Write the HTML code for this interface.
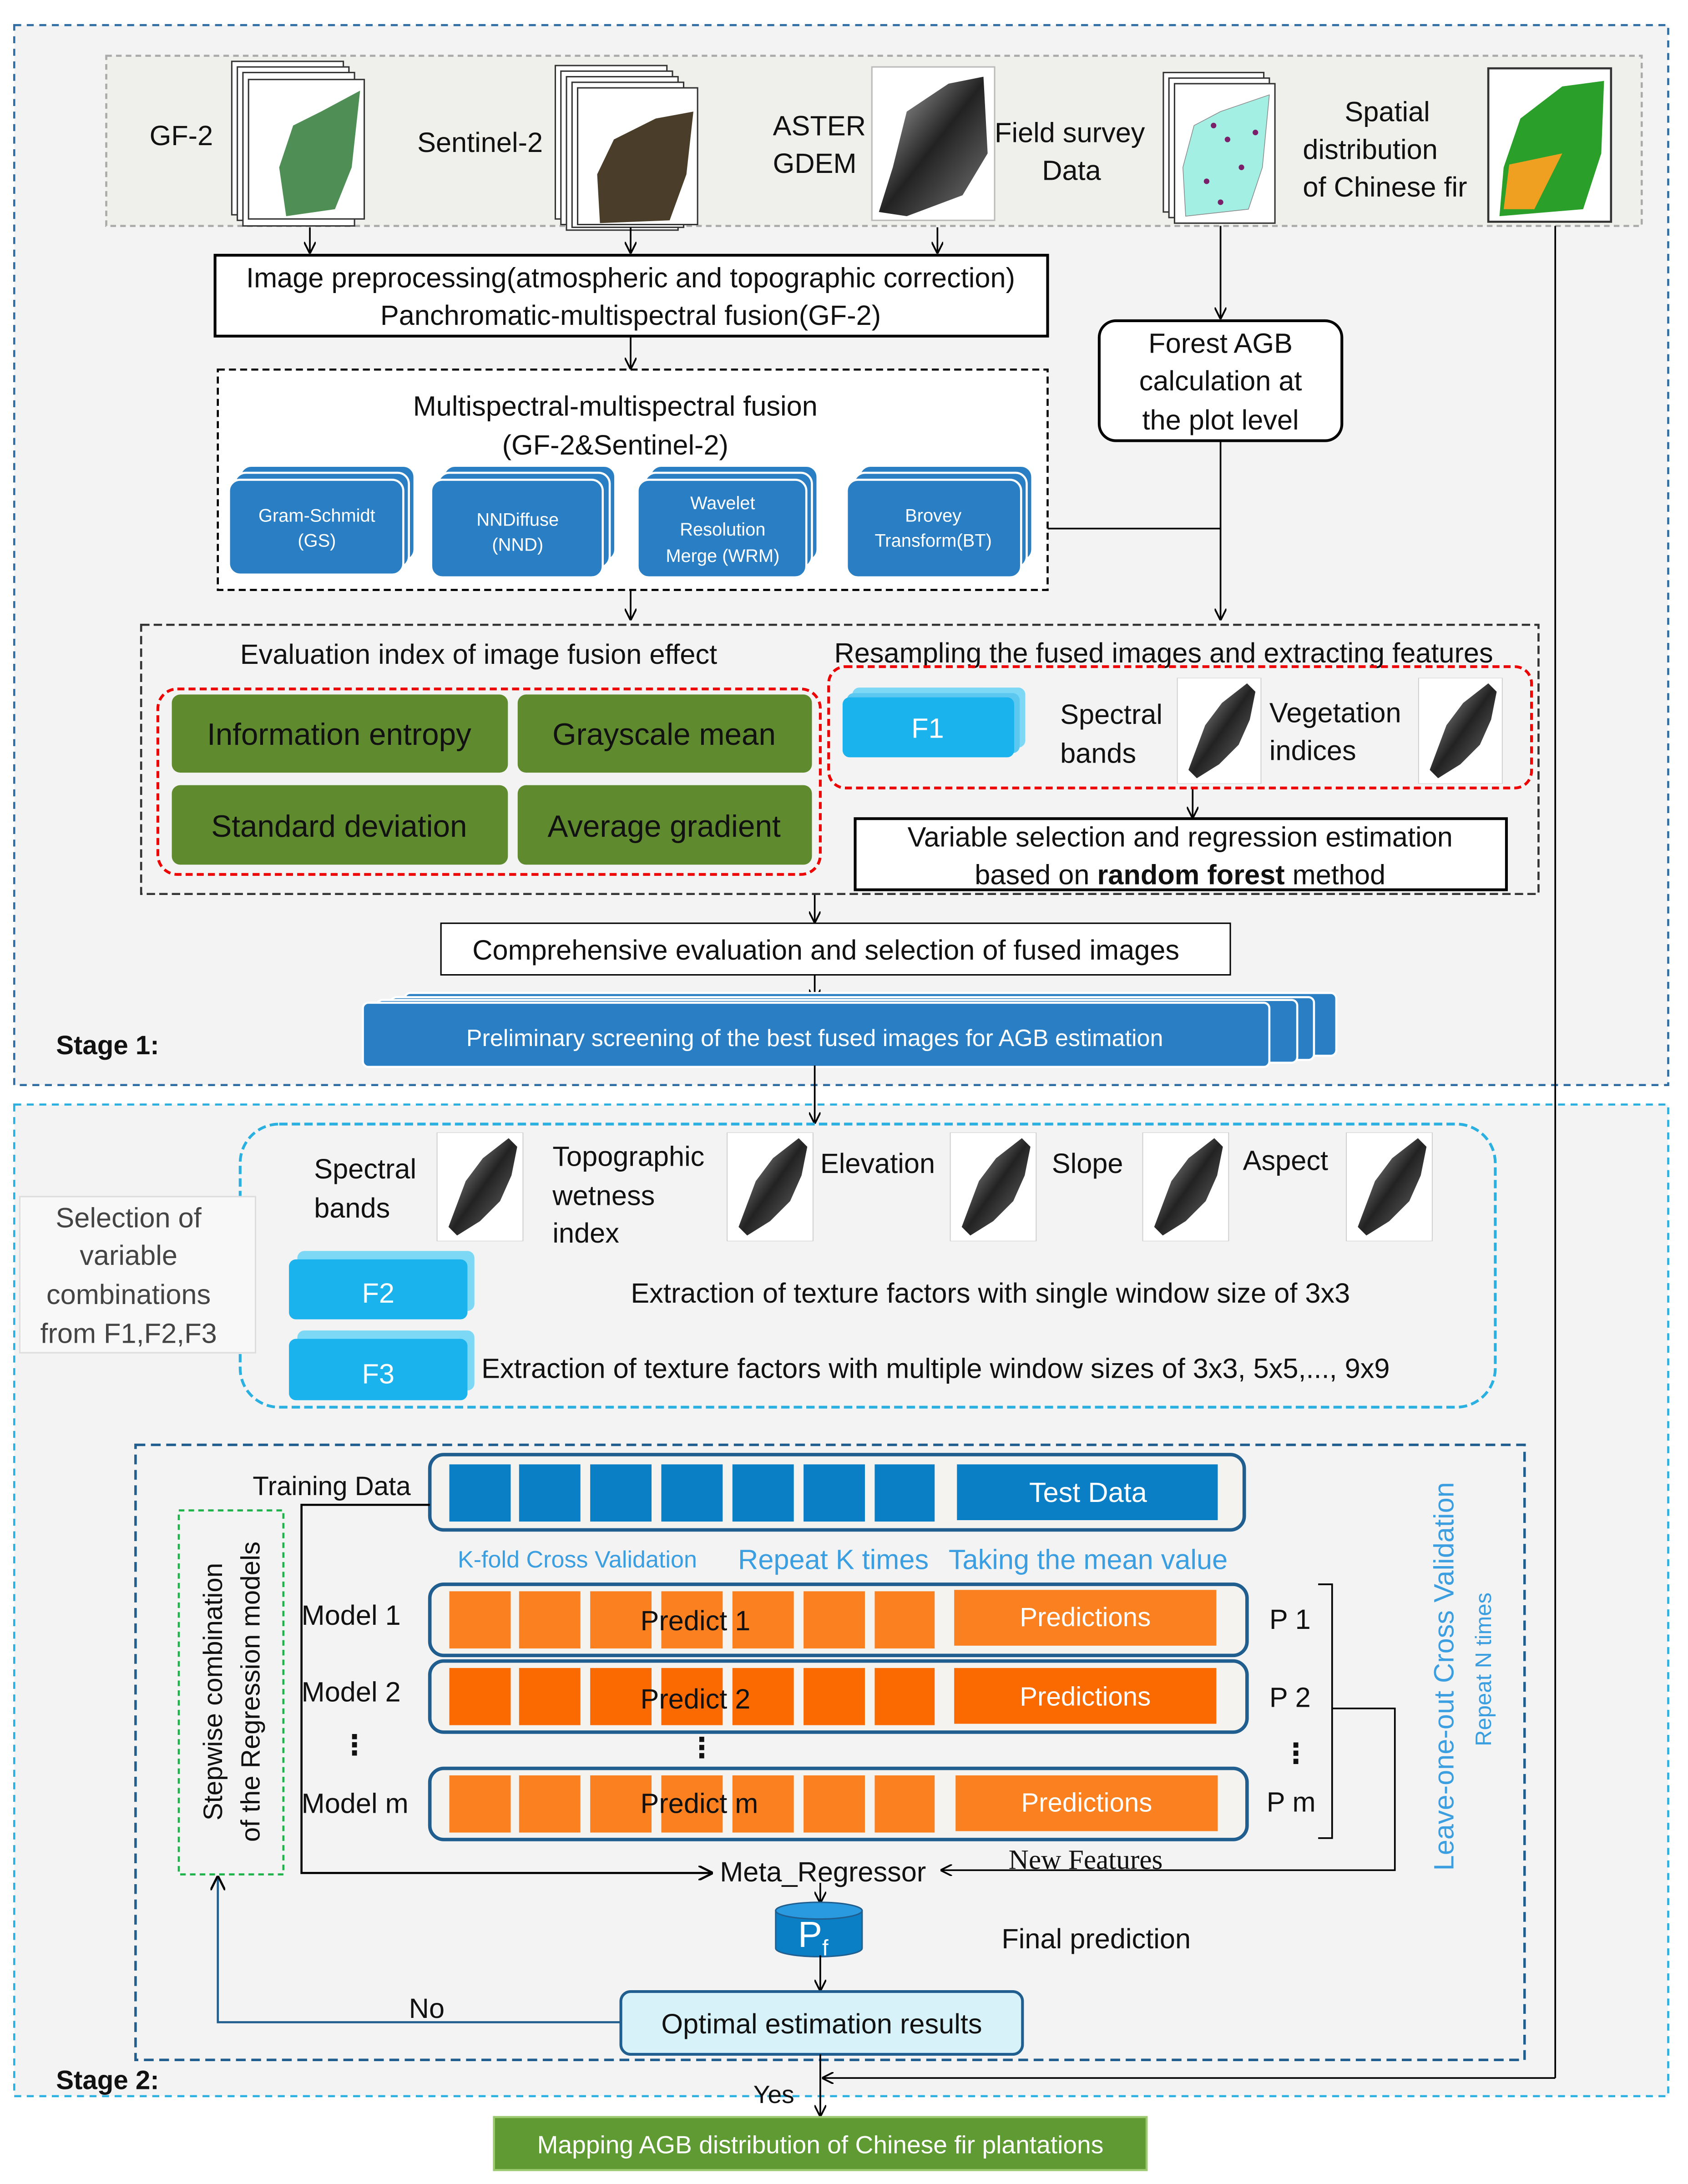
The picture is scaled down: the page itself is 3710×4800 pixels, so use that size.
<!DOCTYPE html>
<html><head><meta charset="utf-8"><style>
html,body{margin:0;padding:0;background:#fff}
svg{display:block}
text{font-family:"Liberation Sans","DejaVu Sans",sans-serif;fill:#111}
</style></head><body>
<svg width="3710" height="4800" viewBox="0 0 1210 1566" xmlns="http://www.w3.org/2000/svg">
<defs>
<marker id="ar" viewBox="0 0 10 10" refX="9" refY="5" markerWidth="7" markerHeight="7" orient="auto"><path d="M0,0 L10,5 L0,10" fill="none" stroke="#000" stroke-width="1.5"/></marker>
<linearGradient id="gr" x1="0" y1="0" x2="1" y2="1"><stop offset="0" stop-color="#bbb"/><stop offset="0.5" stop-color="#222"/><stop offset="1" stop-color="#777"/></linearGradient>
<symbol id="gmap" viewBox="0 0 60 76"><rect x="0" y="0" width="60" height="76" fill="#fff" stroke="#ccc" stroke-width="0.6"/><path d="M50,4 L56,10 L52,30 L44,48 L30,62 L14,72 L8,66 L14,50 L20,34 L32,18 Z" fill="url(#gr)"/></symbol>
</defs>
<rect width="1210" height="1566" fill="#fff"/>
<rect x="10" y="18" width="1186" height="760" fill="#f3f3f3" stroke="#2e6da4" stroke-width="1.5" stroke-dasharray="5,4"/>
<rect x="76" y="40" width="1101" height="122" fill="#eff0ec" stroke="#aaa" stroke-width="1.5" stroke-dasharray="4,3"/>
<g stroke="#333" stroke-width="1" fill="#fff">
<rect x="166" y="44" width="80" height="110"/><rect x="170" y="48" width="80" height="110"/><rect x="174" y="52" width="80" height="110"/><rect x="178" y="57" width="83" height="100"/>
<rect x="398" y="47" width="80" height="110"/><rect x="402" y="51" width="80" height="110"/><rect x="406" y="55" width="80" height="110"/><rect x="410" y="59" width="80" height="104"/><rect x="414" y="63" width="86" height="98"/>
<rect x="834" y="52" width="72" height="100"/><rect x="838" y="56" width="72" height="100"/><rect x="842" y="60" width="72" height="100"/>
<rect x="1067" y="49" width="88" height="110" stroke-width="1.5"/>
</g>
<path d="M258,65 L252,120 L240,150 L205,155 L200,120 L210,90 L230,80 Z" fill="#4f8f55"/>
<path d="M497,80 L492,125 L480,158 L430,160 L428,125 L440,100 L470,85 Z" fill="#4a3d2a"/>
<rect x="625" y="48" width="88" height="110" fill="#fff" stroke="#bbb"/>
<path d="M705,55 L708,110 L690,140 L650,155 L630,152 L640,120 L650,80 L680,60 Z" fill="url(#gr)"/>
<path d="M910,68 L905,120 L895,150 L850,155 L848,120 L856,90 L875,80 Z" fill="#a3efe3" stroke="#888" stroke-width="0.5"/>
<g fill="#7a1f6a"><circle cx="870" cy="90" r="2"/><circle cx="880" cy="100" r="2"/><circle cx="865" cy="130" r="2"/><circle cx="890" cy="120" r="2"/><circle cx="875" cy="145" r="2"/><circle cx="900" cy="95" r="2"/></g>
<path d="M1150,58 L1148,110 L1135,150 L1075,155 L1078,120 L1090,85 L1120,62 Z" fill="#2aa02a"/>
<path d="M1120,110 L1100,150 L1078,150 L1082,118 Z" fill="#f0a020"/>
<g font-size="20">
<text x="107" y="104">GF-2</text><text x="299" y="109">Sentinel-2</text>
<text x="554" y="97">ASTER</text><text x="554" y="124">GDEM</text>
<text x="713" y="102">Field survey</text><text x="747" y="129">Data</text>
<text x="964" y="87">Spatial</text><text x="934" y="114">distribution</text><text x="934" y="141">of Chinese fir</text>
</g>
<g stroke="#000" stroke-width="1.2" fill="none" marker-end="url(#ar)">
<line x1="222" y1="163" x2="222" y2="181"/><line x1="452" y1="163" x2="452" y2="181"/><line x1="672" y1="163" x2="672" y2="181"/>
<line x1="875" y1="162" x2="875" y2="228"/>
<line x1="452" y1="241" x2="452" y2="264"/><line x1="452" y1="423" x2="452" y2="444"/>
<line x1="875" y1="316" x2="875" y2="444"/>
<line x1="855" y1="565" x2="855" y2="586"/><line x1="584" y1="641" x2="584" y2="661"/>
<line x1="584" y1="699" x2="584" y2="717"/>
<line x1="584" y1="1009" x2="584" y2="1034"/>
</g>
<line x1="751" y1="379" x2="875" y2="379" stroke="#000" stroke-width="1.2"/>
<line x1="1115" y1="162" x2="1115" y2="778" stroke="#000" stroke-width="1.2"/>
<rect x="154" y="183" width="597" height="58" fill="#fff" stroke="#000" stroke-width="2"/>
<text x="452" y="206" font-size="20" text-anchor="middle">Image preprocessing(atmospheric and topographic correction)</text>
<text x="452" y="233" font-size="20" text-anchor="middle">Panchromatic-multispectral fusion(GF-2)</text>
<rect x="788" y="230" width="174" height="86" rx="12" fill="#fff" stroke="#000" stroke-width="2"/>
<g font-size="20" text-anchor="middle"><text x="875" y="253">Forest AGB</text><text x="875" y="280">calculation at</text><text x="875" y="308">the plot level</text></g>
<rect x="156" y="265" width="595" height="158" fill="#fff" stroke="#000" stroke-width="1.5" stroke-dasharray="5,3"/>
<text x="441" y="298" font-size="20" text-anchor="middle">Multispectral-multispectral fusion</text>
<text x="441" y="326" font-size="20" text-anchor="middle">(GF-2&amp;Sentinel-2)</text>
<g stroke="#fff" stroke-width="1.5">
<g fill="#2a7fc4">
<rect x="172" y="334" width="125" height="68" rx="8"/><rect x="168" y="339" width="125" height="68" rx="8"/><rect x="164" y="344" width="125" height="68" rx="8"/>
<rect x="318" y="334" width="123" height="68" rx="8"/><rect x="314" y="339" width="123" height="68" rx="8"/><rect x="309" y="344" width="123" height="70" rx="8"/>
<rect x="466" y="334" width="120" height="68" rx="8"/><rect x="462" y="339" width="120" height="68" rx="8"/><rect x="457" y="344" width="121" height="70" rx="8"/>
<rect x="616" y="334" width="124" height="68" rx="8"/><rect x="612" y="339" width="124" height="68" rx="8"/><rect x="607" y="344" width="125" height="70" rx="8"/>
</g></g>
<g font-size="13" text-anchor="middle">
<text x="227" y="374" style="fill:#fff">Gram-Schmidt</text><text x="227" y="392" style="fill:#fff">(GS)</text>
<text x="371" y="377" style="fill:#fff">NNDiffuse</text><text x="371" y="395" style="fill:#fff">(NND)</text>
<text x="518" y="365" style="fill:#fff">Wavelet</text><text x="518" y="384" style="fill:#fff">Resolution</text><text x="518" y="403" style="fill:#fff">Merge (WRM)</text>
<text x="669" y="374" style="fill:#fff">Brovey</text><text x="669" y="392" style="fill:#fff">Transform(BT)</text>
</g>
<rect x="101" y="448" width="1002" height="193" fill="none" stroke="#333" stroke-width="1.5" stroke-dasharray="6,3"/>
<text x="172" y="476" font-size="20">Evaluation index of image fusion effect</text>
<text x="598" y="475" font-size="20">Resampling the fused images and extracting features</text>
<rect x="113" y="494" width="475" height="133" rx="14" fill="none" stroke="#e00" stroke-width="2" stroke-dasharray="5,3"/>
<g fill="#5f8a2e"><rect x="123" y="498" width="241" height="56" rx="6"/><rect x="371" y="498" width="211" height="56" rx="6"/><rect x="123" y="563" width="241" height="57" rx="6"/><rect x="371" y="563" width="211" height="57" rx="6"/></g>
<g font-size="22" text-anchor="middle"><text x="243" y="534">Information entropy</text><text x="476" y="534">Grayscale mean</text><text x="243" y="600">Standard deviation</text><text x="476" y="600">Average gradient</text></g>
<rect x="594" y="478" width="504" height="87" rx="12" fill="none" stroke="#e00" stroke-width="2" stroke-dasharray="5,3"/>
<rect x="611" y="493" width="124" height="43" rx="5" fill="#7dd8f5"/><rect x="607" y="497" width="124" height="43" rx="5" fill="#5cc8f0"/>
<rect x="604" y="500" width="123" height="43" rx="5" fill="#1ab3ee"/>
<text x="665" y="529" font-size="20" text-anchor="middle" style="fill:#fff">F1</text>
<text x="760" y="519" font-size="20">Spectral</text><text x="760" y="547" font-size="20">bands</text>
<use href="#gmap" x="843" y="486" width="62" height="76"/>
<text x="910" y="518" font-size="20">Vegetation</text><text x="910" y="545" font-size="20">indices</text>
<use href="#gmap" x="1016" y="486" width="62" height="76"/>
<rect x="613" y="587" width="467" height="51" fill="#fff" stroke="#000" stroke-width="2"/>
<text x="846" y="607" font-size="20" text-anchor="middle">Variable selection and regression estimation</text>
<text x="846" y="634" font-size="20" text-anchor="middle">based on <tspan font-weight="bold">random forest</tspan> method</text>
<rect x="316" y="662" width="566" height="37" fill="#fff" stroke="#000" stroke-width="1"/>
<text x="592" y="688" font-size="20" text-anchor="middle">Comprehensive evaluation and selection of fused images</text>
<g fill="#2a7fc4" stroke="#fff" stroke-width="1.5">
<rect x="290" y="712" width="668" height="45" rx="4"/><rect x="280" y="715" width="662" height="45" rx="4"/><rect x="270" y="717" width="660" height="45" rx="4"/><rect x="260" y="719" width="650" height="46" rx="4"/>
</g>
<text x="584" y="750" font-size="17" text-anchor="middle" style="fill:#fff">Preliminary screening of the best fused images  for AGB estimation</text>
<text x="40" y="756" font-size="19" font-weight="bold">Stage 1:</text>
<rect x="10" y="792" width="1186" height="711" fill="#f3f3f3" stroke="#2ab0e0" stroke-width="1.5" stroke-dasharray="5,4"/>
<line x1="584" y1="764" x2="584" y2="805" stroke="#000" stroke-width="1.2" marker-end="url(#ar)"/>
<line x1="1115" y1="778" x2="1115" y2="1490" stroke="#000" stroke-width="1.2"/>
<line x1="1115" y1="1490" x2="590" y2="1490" stroke="#000" stroke-width="1.2" marker-end="url(#ar)"/>
<rect x="172" y="806" width="900" height="203" rx="28" fill="none" stroke="#2ab0e0" stroke-width="2" stroke-dasharray="6,3"/>
<rect x="14" y="858" width="169" height="112" fill="#f8f8f8" stroke="#ddd"/>
<g font-size="20" text-anchor="middle"><text x="92" y="880" style="fill:#444">Selection of</text><text x="92" y="907" style="fill:#444">variable</text><text x="92" y="935" style="fill:#444">combinations</text><text x="92" y="963" style="fill:#444">from F1,F2,F3</text></g>
<g font-size="20">
<text x="225" y="845">Spectral</text><text x="225" y="873">bands</text>
<text x="396" y="836">Topographic</text><text x="396" y="864">wetness</text><text x="396" y="891">index</text>
<text x="588" y="841">Elevation</text><text x="754" y="841">Slope</text><text x="891" y="839">Aspect</text>
</g>
<use href="#gmap" x="312" y="812" width="64" height="78"/><use href="#gmap" x="520" y="812" width="64" height="78"/>
<use href="#gmap" x="680" y="812" width="64" height="78"/><use href="#gmap" x="818" y="812" width="64" height="78"/><use href="#gmap" x="964" y="812" width="64" height="78"/>
<rect x="213" y="897" width="127" height="43" rx="5" fill="#7dd8f5"/><rect x="207" y="903" width="128" height="43" rx="5" fill="#1ab3ee"/>
<text x="271" y="934" font-size="20" text-anchor="middle" style="fill:#fff">F2</text>
<text x="710" y="934" font-size="20" text-anchor="middle">Extraction of texture factors with single window size of 3x3</text>
<rect x="213" y="954" width="127" height="43" rx="5" fill="#7dd8f5"/><rect x="207" y="960" width="128" height="44" rx="5" fill="#1ab3ee"/>
<text x="271" y="992" font-size="20" text-anchor="middle" style="fill:#fff">F3</text>
<text x="345" y="988" font-size="20">Extraction of texture factors with multiple window sizes of 3x3, 5x5,..., 9x9</text>
<rect x="97" y="1036" width="996" height="441" fill="none" stroke="#1f5e8e" stroke-width="1.8" stroke-dasharray="7,4"/>
<text x="181" y="1072" font-size="19">Training Data</text>
<rect x="308" y="1043" width="584" height="54" rx="10" fill="#f5f3f0" stroke="#1f5e8e" stroke-width="2.5"/>
<g fill="#0a7fc6"><rect x="322" y="1050" width="44" height="41"/><rect x="372" y="1050" width="44" height="41"/><rect x="423" y="1050" width="44" height="41"/><rect x="474" y="1050" width="44" height="41"/><rect x="525" y="1050" width="44" height="41"/><rect x="576" y="1050" width="44" height="41"/><rect x="627" y="1050" width="43" height="41"/><rect x="686" y="1050" width="187" height="40"/></g>
<text x="780" y="1077" font-size="20" text-anchor="middle" style="fill:#fff">Test Data</text>
<text x="328" y="1124" font-size="17" style="fill:#3a9ee0">K-fold Cross Validation</text>
<text x="529" y="1125" font-size="20" style="fill:#3a9ee0">Repeat K times</text>
<text x="680" y="1125" font-size="20" style="fill:#3a9ee0">Taking the mean value</text>
<rect x="308" y="1136" width="586" height="51" rx="10" fill="#f5f3f0" stroke="#1f5e8e" stroke-width="2.5"/>
<rect x="308" y="1191" width="586" height="51" rx="10" fill="#f5f3f0" stroke="#1f5e8e" stroke-width="2.5"/>
<rect x="308" y="1268" width="586" height="51" rx="10" fill="#f5f3f0" stroke="#1f5e8e" stroke-width="2.5"/>
<g fill="#fa8020">
<rect x="322" y="1141" width="44" height="41"/><rect x="372" y="1141" width="44" height="41"/><rect x="423" y="1141" width="44" height="41"/><rect x="474" y="1141" width="44" height="41"/><rect x="525" y="1141" width="44" height="41"/><rect x="576" y="1141" width="44" height="41"/><rect x="627" y="1141" width="43" height="41"/><rect x="684" y="1140" width="188" height="40"/>
<rect x="322" y="1273" width="44" height="41"/><rect x="372" y="1273" width="44" height="41"/><rect x="423" y="1273" width="44" height="41"/><rect x="474" y="1273" width="44" height="41"/><rect x="525" y="1273" width="44" height="41"/><rect x="576" y="1273" width="44" height="41"/><rect x="627" y="1273" width="43" height="41"/><rect x="685" y="1273" width="188" height="40"/>
</g>
<g fill="#fb6a00">
<rect x="322" y="1196" width="44" height="41"/><rect x="372" y="1196" width="44" height="41"/><rect x="423" y="1196" width="44" height="41"/><rect x="474" y="1196" width="44" height="41"/><rect x="525" y="1196" width="44" height="41"/><rect x="576" y="1196" width="44" height="41"/><rect x="627" y="1196" width="43" height="41"/><rect x="684" y="1196" width="188" height="40"/>
</g>
<g font-size="20">
<text x="459" y="1169">Predict 1</text><text x="459" y="1225">Predict 2</text><text x="459" y="1300">Predict m</text>
<text x="216" y="1165">Model 1</text><text x="216" y="1220">Model 2</text><text x="216" y="1300">Model m</text>
<text x="244" y="1258" font-weight="bold">⋮</text><text x="493" y="1260" font-weight="bold">⋮</text><text x="919" y="1264" font-weight="bold">⋮</text>
<text x="910" y="1168">P 1</text><text x="910" y="1224">P 2</text><text x="908" y="1299">P m</text>
</g>
<g font-size="19" text-anchor="middle"><text x="778" y="1166" style="fill:#fff">Predictions</text><text x="778" y="1223" style="fill:#fff">Predictions</text><text x="779" y="1299" style="fill:#fff">Predictions</text></g>
<polyline points="945,1136 955,1136 955,1318 945,1318" fill="none" stroke="#000" stroke-width="1.2"/>
<polyline points="955,1225 1000,1225 1000,1341 675,1341" fill="none" stroke="#000" stroke-width="1.2" marker-end="url(#ar)"/>
<text x="723" y="1340" font-size="20" style="font-family:'Liberation Serif',serif">New Features</text>
<polyline points="308,1079 216,1079 216,1343 510,1343" fill="none" stroke="#000" stroke-width="1.5" marker-end="url(#ar)"/>
<text x="516" y="1349" font-size="20">Meta_Regressor</text>
<rect x="128" y="1083" width="75" height="261" fill="none" stroke="#1db34a" stroke-width="1.5" stroke-dasharray="4,3"/>
<g font-size="19" text-anchor="middle">
<text transform="translate(159,1213) rotate(-90)">Stepwise combination</text>
<text transform="translate(186,1213) rotate(-90)">of the Regression models</text>
</g>
<text transform="translate(1042,1202) rotate(-90)" font-size="20" text-anchor="middle" style="fill:#3a9ee0">Leave-one-out Cross Validation</text>
<text transform="translate(1069,1197) rotate(-90)" font-size="16" text-anchor="middle" style="fill:#3a9ee0">Repeat N times</text>
<line x1="588" y1="1350" x2="588" y2="1364" stroke="#000" stroke-width="1.2" marker-end="url(#ar)"/>
<path d="M556,1370 L556,1397 A31,6 0 0 0 618,1397 L618,1370 Z" fill="#0a7fc6" stroke="#1f5e8e"/>
<ellipse cx="587" cy="1370" rx="31" ry="6" fill="#2a9ae0" stroke="#1f5e8e"/>
<text x="572" y="1396" font-size="26" style="fill:#fff">P<tspan font-size="16" dy="6" style="fill:#fff">f</tspan></text>
<text x="718" y="1397" font-size="20">Final prediction</text>
<line x1="588" y1="1402" x2="588" y2="1427" stroke="#000" stroke-width="1.2" marker-end="url(#ar)"/>
<rect x="445" y="1428" width="288" height="45" rx="7" fill="#d8f2fa" stroke="#1f5e8e" stroke-width="2"/>
<text x="589" y="1458" font-size="20" text-anchor="middle">Optimal  estimation results</text>
<polyline points="445,1450 156,1450 156,1346" fill="none" stroke="#1f5e8e" stroke-width="1.5" marker-end="url(#ar)"/>
<text x="293" y="1447" font-size="20">No</text>
<text x="40" y="1498" font-size="19" font-weight="bold">Stage 2:</text>
<text x="540" y="1508" font-size="18">Yes</text>
<line x1="588" y1="1473" x2="588" y2="1517" stroke="#000" stroke-width="1.2" marker-end="url(#ar)"/>
<rect x="354" y="1518" width="468" height="38" fill="#5f9a32" stroke="#9cc870" stroke-width="1.5"/>
<text x="588" y="1544" font-size="18" text-anchor="middle" style="fill:#fff">Mapping  AGB distribution of Chinese fir plantations</text>
</svg>
</body></html>
